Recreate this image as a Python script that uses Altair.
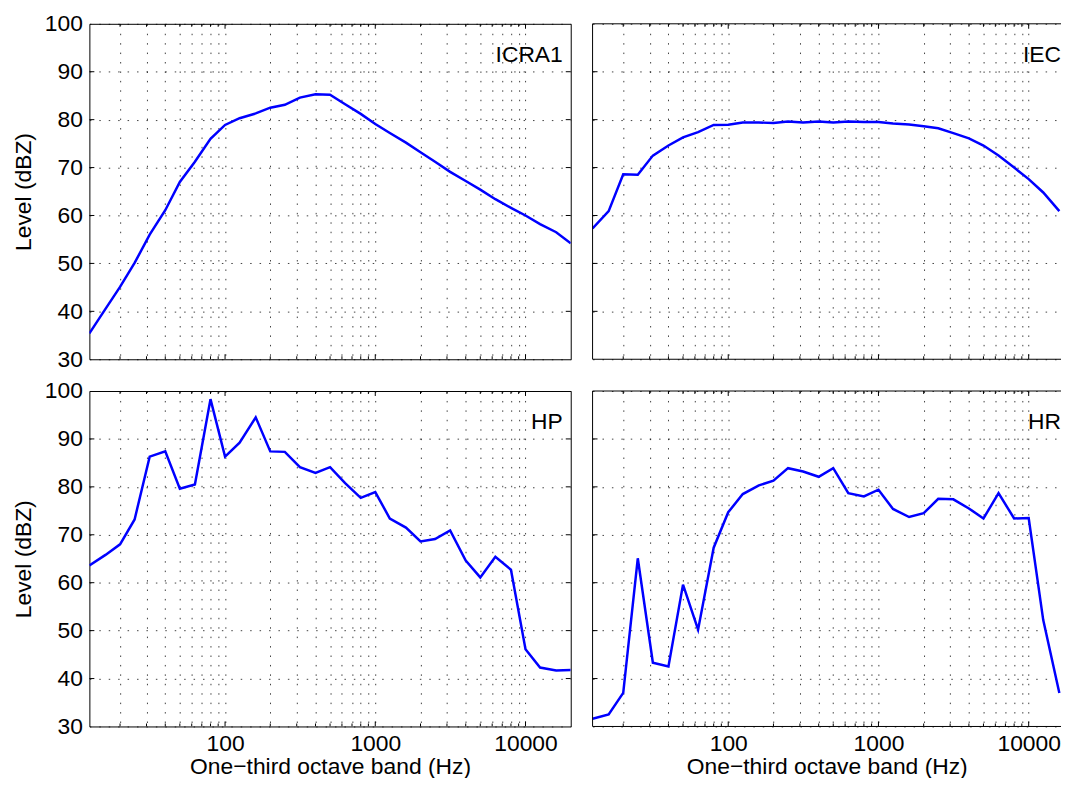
import altair as alt
import pandas as pd

freqs = [12.5, 16, 20, 25, 31.5, 40, 50, 63, 80, 100, 125, 160, 200, 250, 315, 400, 500,
         630, 800, 1000, 1250, 1600, 2000, 2500, 3150, 4000, 5000, 6300, 8000, 10000,
         12500, 16000, 20000]

icra1 = [35.4, 40.5, 45.1, 50.1, 56.0, 61.1, 67.0, 71.2, 76.0, 78.9, 80.3, 81.3, 82.5,
         83.1, 84.6, 85.3, 85.2, 83.2, 81.2, 79.1, 77.2, 75.2, 73.2, 71.2, 69.1, 67.2,
         65.4, 63.4, 61.6, 60.0, 58.2, 56.5, 54.2]

iec = [57.3, 60.9, 68.6, 68.5, 72.5, 74.6, 76.3, 77.4, 78.9, 78.95, 79.4, 79.4, 79.3,
       79.6, 79.4, 79.6, 79.4, 79.6, 79.5, 79.5, 79.2, 79.0, 78.6, 78.2, 77.2, 76.1,
       74.6, 72.5, 70.0, 67.6, 64.8, 60.9, 55.5]

hp = [63.6, 65.8, 68.0, 73.2, 86.3, 87.4, 79.6, 80.5, 98.3, 86.3, 89.2, 94.5, 87.4,
      87.3, 84.1, 82.9, 84.1, 80.8, 77.7, 78.9, 73.4, 71.5, 68.6, 69.1, 70.9, 64.6,
      61.1, 65.4, 62.7, 46.1, 42.3, 41.7, 41.8]

hr = [31.6, 32.5, 37.0, 65.1, 43.3, 42.5, 59.6, 50.2, 67.3, 74.7, 78.5, 80.3, 81.3,
      83.9, 83.2, 82.1, 83.9, 78.7, 78.0, 79.4, 75.4, 73.7, 74.5, 77.5, 77.4, 75.5,
      73.4, 78.7, 73.4, 73.5, 52.2, 37.0, 37.2]

panel_names = ["ICRA1", "IEC", "HP", "HR"]
x_minor = [20, 30, 40, 50, 60, 70, 80, 90, 200, 300, 400, 500, 600, 700, 800, 900,
           2000, 3000, 4000, 5000, 6000, 7000, 8000, 9000]
x_major = [100, 1000, 10000]
x_grid = sorted(x_minor + x_major)
y_ticks = [30, 40, 50, 60, 70, 80, 90, 100]
y_inner = [40, 50, 60, 70, 80, 90]

W, H = 485, 338
PX_PER_DECADE = W / 3.2041199826559246   # 12.5 Hz .. 20 kHz spans the left panels
W_RIGHT = 472                              # right panels are cut by the page edge
F_MIN = 12.5
F_MAX_LEFT = 20000
F_MAX_RIGHT = F_MIN * 10 ** (W_RIGHT / PX_PER_DECADE)
FONT = "Liberation Sans"
FS = 23


def panel(vals, name, show_x, show_y, right):
    w = W_RIGHT if right else W
    fmax = F_MAX_RIGHT if right else F_MAX_LEFT
    xs = alt.Scale(type="log", domain=[F_MIN, fmax], nice=False)
    ys = alt.Scale(domain=[30, 100], nice=False)
    df = pd.DataFrame({"f": freqs, "v": vals})
    label_expr = " || ".join(f"datum.value == {v}" for v in x_major)
    x_axis = alt.Axis(
        values=x_grid, labelExpr=f"({label_expr}) ? format(datum.value, 'd') : ''",
        labels=show_x, title="One\u2212third octave band (Hz)" if show_x else None,
        grid=True, ticks=False, domain=False, labelOverlap=False, labelFlush=False,
        labelPadding=6, titlePadding=0,
    )
    y_axis = alt.Axis(
        values=y_ticks, labels=show_y, title="Level (dBZ)" if show_y else None,
        grid=True, ticks=False, domain=False, labelPadding=7, titlePadding=9,
    )
    X = lambda field: alt.X(field, scale=xs, axis=x_axis)
    Y = lambda field: alt.Y(field, scale=ys, axis=y_axis)

    # only the part of the band range that lies inside the visible panel
    line = alt.Chart(df).transform_filter(f"datum.f <= {fmax}").mark_line(
        color="#0000ff", strokeWidth=2.5, clip=True).encode(x=X("f:Q"), y=Y("v:Q"))
    layers = [line]

    # inward tick marks (MATLAB style)
    for vals_, ln in ((x_major, 5), (x_minor, 3)):
        tdf = pd.DataFrame({"f": vals_})
        for y0, y1 in ((H, H - ln), (0, ln)):
            layers.append(alt.Chart(tdf).mark_rule(color="black", strokeWidth=1, clip=True).encode(
                x=X("f:Q"), y=alt.value(y0), y2=alt.value(y1)))
    ydf = pd.DataFrame({"v": y_inner})
    sides = [(0, 5)] if right else [(0, 5), (w, w - 5)]
    for x0, x1 in sides:
        layers.append(alt.Chart(ydf).mark_rule(color="black", strokeWidth=1).encode(
            y=Y("v:Q"), x=alt.value(x0), x2=alt.value(x1)))

    # frame of the cut-off panels (no right edge)
    if right:
        for enc in (dict(x=alt.value(0), x2=alt.value(w), y=alt.value(0)),
                    dict(x=alt.value(0), x2=alt.value(w), y=alt.value(H)),
                    dict(x=alt.value(0), y=alt.value(0), y2=alt.value(H))):
            layers.append(alt.Chart(pd.DataFrame({"k": [0]})).mark_rule(
                color="black", strokeWidth=1).encode(**enc))

    txt = alt.Chart(pd.DataFrame({"t": [name]})).mark_text(
        align="right", baseline="middle", fontSize=FS, font=FONT, color="black", clip=True
    ).encode(x=alt.value(min(W - 8, w)), y=alt.value(31), text="t:N")
    layers.append(txt)

    ch = alt.layer(*layers).properties(width=w, height=H)
    if right:
        ch = ch.properties(view=alt.ViewBackground(stroke=None))
    return ch


chart = alt.concat(
    panel(icra1, panel_names[0], False, True, False),
    panel(iec, panel_names[1], False, False, True),
    panel(hp, panel_names[2], True, True, False),
    panel(hr, panel_names[3], True, False, True),
    columns=2, spacing={"row": 32, "column": 22}, bounds="flush",
).configure(
    font=FONT, padding={"left": 4, "top": 1, "right": 0, "bottom": -4}
).configure_view(
    stroke="black", strokeWidth=1
).configure_axis(
    labelFont=FONT, titleFont=FONT, labelFontSize=FS, titleFontSize=FS,
    labelColor="black", titleColor="black", titleFontWeight="normal",
    gridColor="black", gridDash=[1.5, 8], gridOpacity=0.75, gridWidth=1,
)

chart.save("out.html", embed_options={"renderer": "svg", "actions": False})
